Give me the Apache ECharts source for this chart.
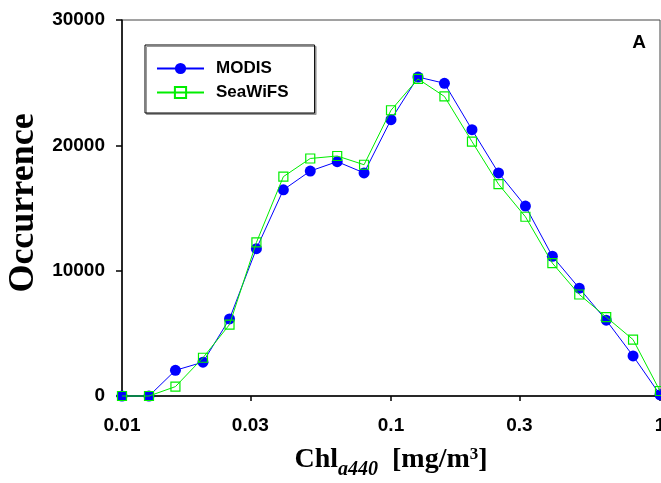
<!DOCTYPE html>
<html>
<head>
<meta charset="utf-8">
<script src="https://cdn.jsdelivr.net/npm/echarts@6/dist/echarts.min.js"></script>
<style>
html,body{margin:0;padding:0;background:#fff;}
#chart{width:661px;height:483px;}
</style>
</head>
<body>
<div id="chart"></div>
<script>
// Chl a440 bin centres [mg/m^3]
var chl = [0.01, 0.0126, 0.0158, 0.02, 0.0251, 0.0316, 0.0398, 0.0501, 0.0631, 0.0794,
           0.1, 0.126, 0.158, 0.2, 0.251, 0.316, 0.398, 0.501, 0.631, 0.794, 1];
var modis = [0, 0, 2050, 2700, 6150, 11750, 16450, 17950, 18700, 17800,
             22050, 25450, 24950, 21250, 17800, 15150, 11150, 8600, 6050, 3200, 100];
var seawifs = [0, 0, 750, 3050, 5700, 12250, 17500, 18950, 19150, 18450,
               22800, 25300, 23900, 20300, 16900, 14300, 10600, 8100, 6300, 4500, 400];
var xTicks = [0.01, 0.03, 0.1, 0.3, 1];

function pairs(xs, ys){ return xs.map(function(x,i){ return [x, ys[i]]; }); }

var chart = echarts.init(document.getElementById('chart'), null, {renderer:'canvas'});
var labelFont = {fontFamily:'Liberation Sans, Arial, sans-serif', fontWeight:'bold', fontSize:19, color:'#000'};
var serif = 'Liberation Serif, Times New Roman, serif';

chart.setOption({
  animation:false,
  backgroundColor:'#fff',
  grid:{left:122, right:1, top:20, bottom:87, show:true, borderColor:'#444', borderWidth:1,
        containLabel:false, outerBoundsMode:'none'},
  xAxis:{
    type:'log', logBase:10, min:0.01, max:1,
    axisLine:{show:true, onZero:false, lineStyle:{color:'#000', width:1.5}},
    axisTick:{show:true, inside:false, length:5, customValues:xTicks, lineStyle:{color:'#000', width:1.5}},
    axisLabel:Object.assign({margin:20, customValues:xTicks, showMaxLabel:true, alignMaxLabel:'center',
      formatter:function(v){ return String(+(+v).toPrecision(3)); }}, labelFont),
    splitLine:{show:false},
    minorTick:{show:false},
    name:'{b|Chl}{sub|a440}{b|  [mg/m}{sup|3}{b|]}',
    nameLocation:'middle', nameGap:50,
    nameTextStyle:{
      rich:{
        b:{fontFamily:serif, fontWeight:'bold', fontSize:28, color:'#000', lineHeight:30, verticalAlign:'top'},
        sub:{fontFamily:serif, fontWeight:'bold', fontStyle:'italic', fontSize:20, color:'#000', lineHeight:22, verticalAlign:'top', padding:[14,0,0,0]},
        sup:{fontFamily:serif, fontWeight:'bold', fontSize:17, color:'#000', lineHeight:18, verticalAlign:'top', padding:[0,0,0,0]}
      }
    }
  },
  yAxis:{
    type:'value', min:0, max:30000, interval:10000,
    axisLine:{show:true, lineStyle:{color:'#000', width:1.5}},
    axisTick:{show:true, inside:false, length:6, lineStyle:{color:'#000', width:1.5}},
    axisLabel:Object.assign({margin:17, formatter:function(v){ return String(v); }}, labelFont),
    splitLine:{show:false},
    name:'Occurrence', nameLocation:'middle', nameGap:75, nameRotate:90,
    nameTextStyle:{fontFamily:serif, fontWeight:'bold', fontSize:36, color:'#000', padding:[0,0,0,10]}
  },
  legend:{
    left:145, top:45, orient:'vertical',
    itemWidth:47, itemHeight:14, itemGap:7,
    padding:[15,26,12,11],
    backgroundColor:'#fff', borderColor:'#000', borderWidth:1,
    shadowColor:'#999', shadowOffsetX:1.5, shadowOffsetY:1.5, shadowBlur:0,
    textStyle:{fontFamily:'Liberation Sans, Arial, sans-serif', fontWeight:'bold', fontSize:17, color:'#000', padding:[0,0,0,7]},
    data:['MODIS','SeaWiFS']
  },
  graphic:[{
    type:'text', right:15, top:33,
    style:{text:'A', fontFamily:'Liberation Sans, Arial, sans-serif', fontWeight:'bold', fontSize:19, fill:'#000'}
  }],
  series:[
    {name:'MODIS', type:'line', data:pairs(chl, modis), symbol:'circle', symbolSize:11,
     itemStyle:{color:'#0000ff'}, lineStyle:{color:'#0000ff', width:1}, clip:false, z:2},
    {name:'SeaWiFS', type:'line', data:pairs(chl, seawifs), symbol:'rect', symbolSize:9,
     itemStyle:{color:'rgba(255,255,255,0)', borderColor:'#00ee00', borderWidth:1.2},
     lineStyle:{color:'#00ee00', width:1}, clip:false, z:3}
  ]
});
</script>
</body>
</html>
